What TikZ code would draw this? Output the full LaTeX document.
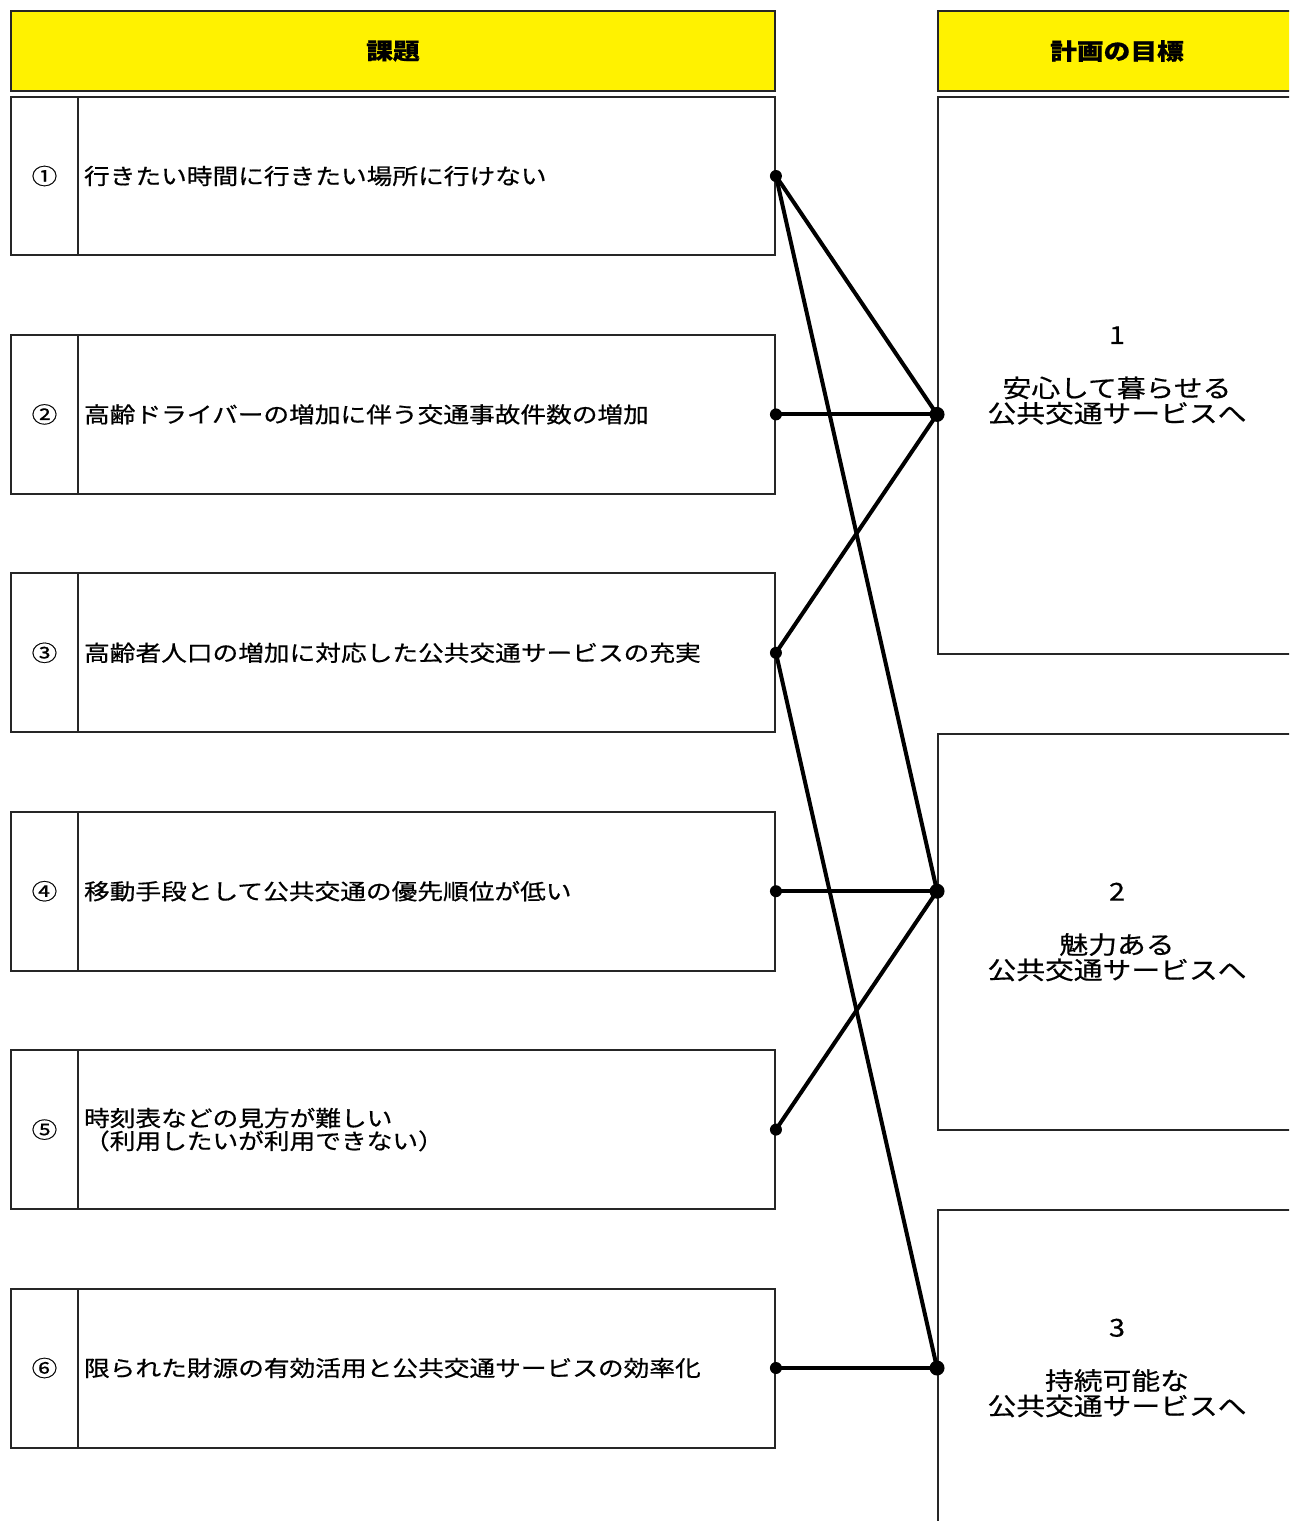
\documentclass[tikz,border=0pt]{standalone}
\usepackage{fontspec}
\newfontfamily\jfont[FakeStretch=1.17, FakeBold=0.6]{Noto Sans CJK JP}
\usepackage{tikz}
\usetikzlibrary{positioning}
\usetikzlibrary{calc}

\tikzset{
	midasi/.style={draw=black!85, line width=0.04cm, fill=yellow, minimum height=1.6cm,
		font=\jfont\bfseries\fontsize{13pt}{13pt}\selectfont},
	bango/.style={draw=black!85, line width=0.04cm, minimum width=1.34cm, minimum height=3.18cm,
		font=\jfont\fontsize{12.5pt}{12.5pt}\selectfont},
	kadai/.style={draw=black!85, line width=0.04cm, minimum height=3.18cm, text width=13.7cm,
		inner xsep=0.12cm, align=left, font=\jfont\fontsize{12.5pt}{13pt}\selectfont},
	mokuhyo/.style={draw=black!85, line width=0.04cm, minimum width=7.16cm, align=center,
		font=\jfont\fontsize{14pt}{14.4pt}\selectfont},
	link/.style={line width=0.08cm},
	joint/.style={circle, fill, inner sep=0pt, minimum size=0.26cm},
}

\begin{document}
\begin{tikzpicture}[x=0.02cm, y=-0.02cm]
	\useasboundingbox (0,0) rectangle (1289,1521);
	\clip (0,0) rectangle (1289,1521);

	% Headers
	% -------
	\node[midasi, minimum width=15.28cm] (midasiL) at (393,51) {課題};
	\node[midasi, minimum width=7.16cm] (midasiR) at (1117,51) {計画の目標};

	% Issues
	% ------
	\foreach \i/\num/\txt in {1/①/{行きたい時間に行きたい場所に行けない},
		2/②/{高齢ドライバーの増加に伴う交通事故件数の増加},
		3/③/{高齢者人口の増加に対応した公共交通サービスの充実},
		4/④/{移動手段として公共交通の優先順位が低い},
		5/⑤/{時刻表などの見方が難しい\\（利用したいが利用できない）},
		6/⑥/{限られた財源の有効活用と公共交通サービスの効率化}}
	{
		\node[bango] (bango\i) at (44.5,{176+238.4*(\i-1)}) {\num};
		\node[kadai] (kadai\i) at (426.5,{176+238.4*(\i-1)}) {\txt};
	}

	% Goals
	% -----
	\node[mokuhyo, minimum height=11.14cm] (mokuhyo1) at (1117,375.5)
		{1\\[0.56cm]安心して暮らせる\\公共交通サービスへ};
	\node[mokuhyo, minimum height=7.92cm] (mokuhyo2) at (1117,932)
		{2\\[0.56cm]魅力ある\\公共交通サービスへ};
	\node[mokuhyo, minimum height=6.32cm] (mokuhyo3) at (1117,1368)
		{3\\[0.56cm]持続可能な\\公共交通サービスへ};

	% connection points on the goal boxes
	\coordinate (g1) at (mokuhyo1.west |- kadai2.east);
	\coordinate (g2) at (mokuhyo2.west |- kadai4.east);
	\coordinate (g3) at (mokuhyo3.west |- kadai6.east);

	% Links
	% -----
	\draw[link] (kadai1.east) -- (g1);
	\draw[link] (kadai1.east) -- (g2);
	\draw[link] (kadai2.east) -- (g1);
	\draw[link] (kadai3.east) -- (g1);
	\draw[link] (kadai3.east) -- (g3);
	\draw[link] (kadai4.east) -- (g2);
	\draw[link] (kadai5.east) -- (g2);
	\draw[link] (kadai6.east) -- (g3);

	\foreach \i in {1,...,6}
		\node[joint, minimum size=0.24cm] at (kadai\i.east) {};
	\foreach \g in {g1,g2,g3}
		\node[joint, minimum size=0.3cm] at (\g) {};
\end{tikzpicture}
\end{document}
